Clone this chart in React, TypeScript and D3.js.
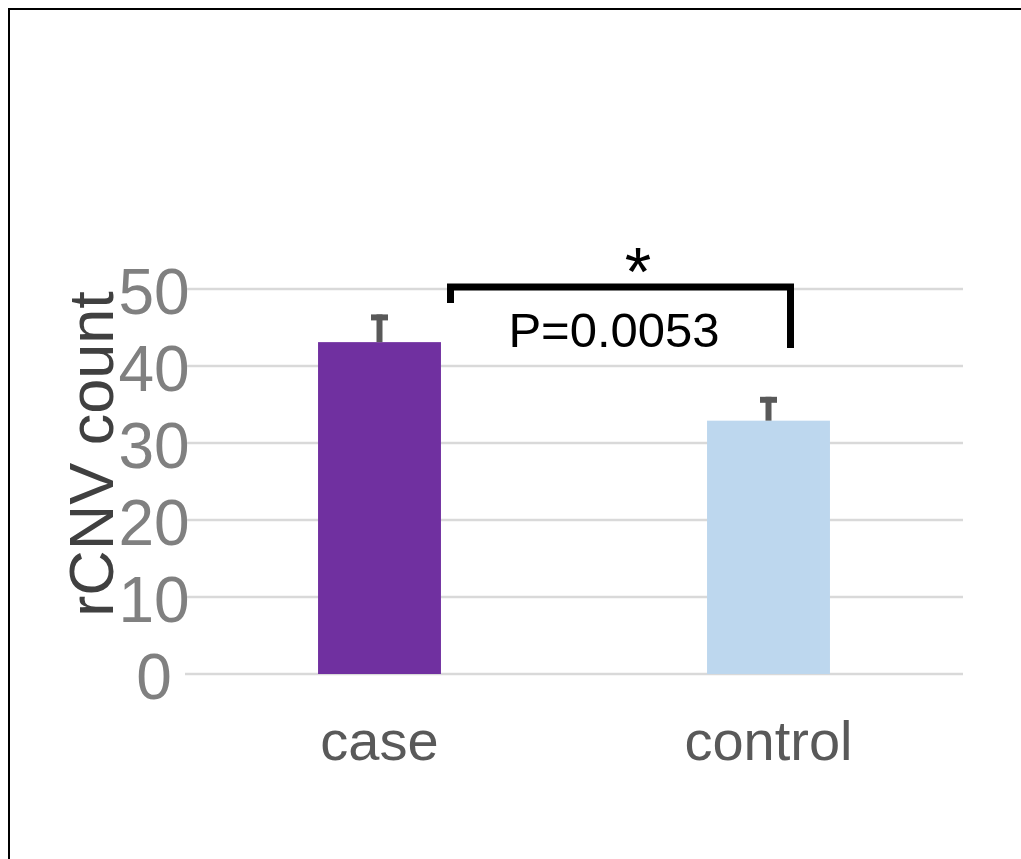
import React, { useEffect, useRef } from "react"
import * as d3 from "d3"

// chart values
const categories = ["case", "control"]
const means = [43.1, 32.9]
const errors = [3.6, 3.1]
const barColors = ["#7030a0", "#bdd7ee"]
const yTicks = [0, 10, 20, 30, 40, 50]
const pLabel = "P=0.0053"
const starLabel = "*"

export default function App() {
  const ref = useRef<SVGSVGElement>(null)

  useEffect(() => {
    const svg = d3.select(ref.current)
    svg.selectAll("*").remove()

    const font = "'Liberation Sans', Arial, sans-serif"
    const left = 185,
      right = 963,
      top = 289,
      bottom = 674

    var x = d3.scaleBand().domain(categories).range([left, right]).padding(0)
    var y = d3.scaleLinear().domain([0, 50]).range([bottom, top])
    var barW = x.bandwidth() * 0.316

    // frame round the picture (only top and left edges show)
    svg
      .append("rect")
      .attr("x", 9)
      .attr("y", 9)
      .attr("width", 1100)
      .attr("height", 1000)
      .attr("fill", "none")
      .attr("stroke", "#000")
      .attr("stroke-width", 2)

    // gridlines
    svg
      .append("g")
      .selectAll("line")
      .data(yTicks)
      .enter()
      .append("line")
      .attr("x1", left)
      .attr("x2", right)
      .attr("y1", (d) => y(d))
      .attr("y2", (d) => y(d))
      .attr("stroke", "#d9d9d9")
      .attr("stroke-width", 2.5)

    // tick labels
    svg
      .append("g")
      .selectAll("text")
      .data(yTicks)
      .enter()
      .append("text")
      .attr("x", 154)
      .attr("y", (d) => y(d) + 25)
      .attr("text-anchor", "middle")
      .attr("font-family", font)
      .attr("font-size", 64)
      .attr("fill", "#808080")
      .text((d) => d)

    // y title
    svg
      .append("text")
      .attr("transform", "translate(113,454) rotate(-90)")
      .attr("text-anchor", "middle")
      .attr("font-family", font)
      .attr("font-size", 63)
      .attr("fill", "#404040")
      .text("rCNV count")

    // bars
    svg
      .append("g")
      .selectAll("rect")
      .data(categories)
      .enter()
      .append("rect")
      .attr("x", (d) => x(d)! + x.bandwidth() / 2 - barW / 2)
      .attr("width", barW)
      .attr("y", (d, i) => y(means[i]))
      .attr("height", (d, i) => y(0) - y(means[i]))
      .attr("fill", (d, i) => barColors[i])

    // error bars, upper half only
    var eb = svg.append("g").attr("stroke", "#595959").attr("stroke-width", 6)
    categories.forEach((c, i) => {
      var cx = x(c)! + x.bandwidth() / 2
      eb.append("line")
        .attr("x1", cx)
        .attr("x2", cx)
        .attr("y1", y(means[i]))
        .attr("y2", y(means[i] + errors[i]))
      eb.append("line")
        .attr("x1", cx - 8.5)
        .attr("x2", cx + 8.5)
        .attr("y1", y(means[i] + errors[i]) + 3)
        .attr("y2", y(means[i] + errors[i]) + 3)
    })

    // category labels
    svg
      .append("g")
      .selectAll("text")
      .data(categories)
      .enter()
      .append("text")
      .attr("x", (d) => x(d)! + x.bandwidth() / 2)
      .attr("y", 760)
      .attr("text-anchor", "middle")
      .attr("font-family", font)
      .attr("font-size", 56)
      .attr("fill", "#595959")
      .text((d) => d)

    // significance bracket
    var bx1 = 450.5,
      bx2 = 790.5,
      by = 287
    svg
      .append("path")
      .attr("d", `M${bx1},303 V${by} H${bx2} V348`)
      .attr("fill", "none")
      .attr("stroke", "#000")
      .attr("stroke-width", 7)
    svg
      .append("text")
      .attr("x", 638)
      .attr("y", 295)
      .attr("text-anchor", "middle")
      .attr("font-family", font)
      .attr("font-size", 68)
      .attr("fill", "#000")
      .text(starLabel)
    svg
      .append("text")
      .attr("x", 614)
      .attr("y", 347)
      .attr("text-anchor", "middle")
      .attr("font-family", font)
      .attr("font-size", 49)
      .attr("fill", "#000")
      .text(pLabel)
  }, [])

  return (
    <svg
      ref={ref}
      width={1021}
      height={859}
      style={{ position: "absolute", left: 0, top: 0, display: "block", background: "#fff" }}
    />
  )
}
